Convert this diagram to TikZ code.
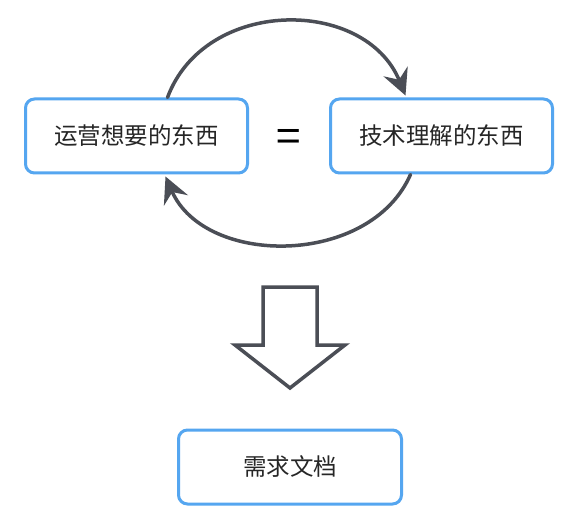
\documentclass[tikz,border=0pt]{standalone}
\usepackage{fontspec}
\setmainfont{Noto Sans CJK SC}
\usetikzlibrary{arrows.meta}
\definecolor{boxblue}{HTML}{55A6F0}
\definecolor{sketchgray}{HTML}{4B4E56}
\tikzset{
  box/.style={draw=boxblue, line width=3pt, rounded corners=9pt, fill=white,
    minimum height=74pt, inner sep=0pt, font=\fontsize{23.5}{28}\selectfont, text=black!85},
  loop/.style={draw=sketchgray, line width=3.5pt, line cap=round,
    -{Stealth[length=26pt,width=26pt,inset=9pt]}},
  bigarrow/.style={draw=sketchgray, line width=3.5pt, line join=miter, fill=white}
}
\begin{document}
\begin{tikzpicture}[x=1pt,y=-1pt]
\path[use as bounding box, fill=white] (0,0) rectangle (588,526);
\node[box, minimum width=222pt] (ops) at (136.5,136) {运营想要的东西};
\node[box, minimum width=222pt] (tech) at (441.5,136) {技术理解的东西};
\node[box, minimum width=223pt] (doc) at (290,467) {需求文档};
\node[font=\fontsize{44}{44}\selectfont] (eq) at (289,141) {=};
\draw[loop] ([xshift=31pt]ops.north) .. controls (205,-3) and (365,-3) .. ([xshift=-36pt,yshift=2pt]tech.north);
\draw[loop] ([xshift=-31pt]tech.south) .. controls (370,267) and (205,267) .. ([xshift=29pt,yshift=-2pt]ops.south);
\draw[bigarrow] (263,287) -- (317,287) -- (317,345) -- (345,345) -- (290,388) -- (235,345) -- (263,345) -- cycle;
\end{tikzpicture}
\end{document}
